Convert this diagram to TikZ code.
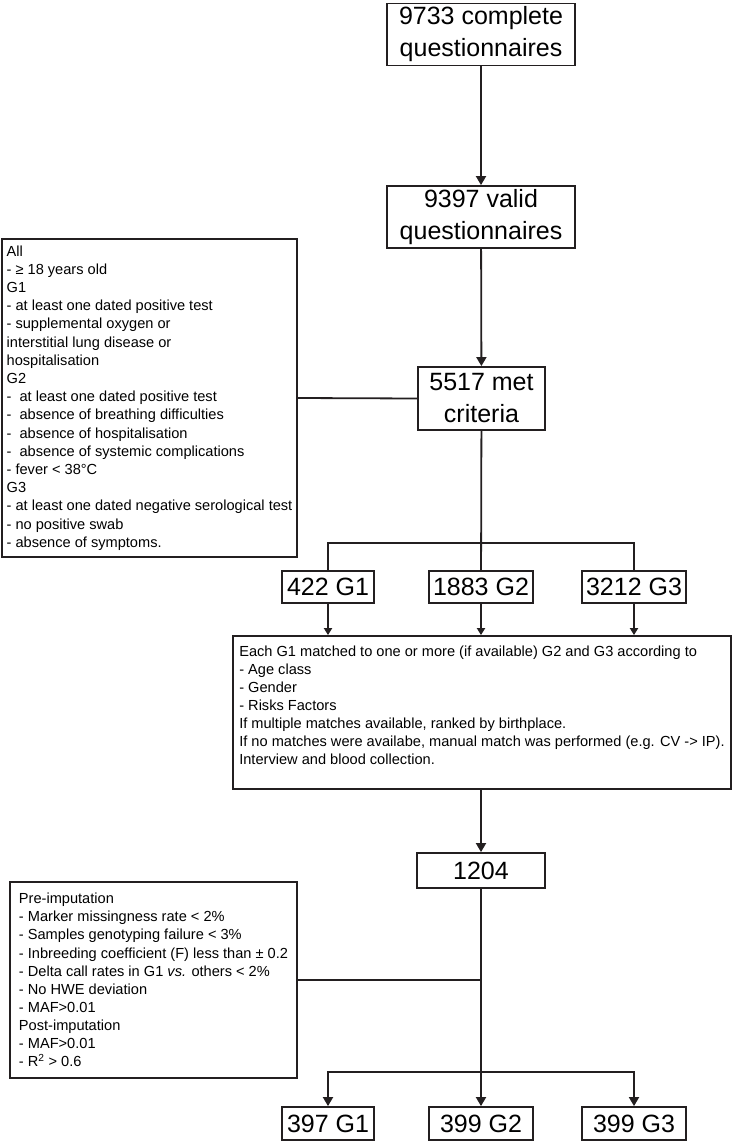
\documentclass[tikz,border=0pt]{standalone}
\usepackage{fontspec}
\setmainfont{Liberation Sans}
\usetikzlibrary{arrows.meta}
\definecolor{ink}{HTML}{231F20}

\begin{document}
\begin{tikzpicture}[x=1pt,y=-1pt,
    line width=1.8pt,draw=ink,
    bigbox/.style={draw=ink,line width=1.8pt,inner sep=0pt,align=center,
      font=\fontsize{25}{32}\selectfont},
    notebox/.style={draw=ink,line width=1.8pt,inner sep=0pt,align=left},
    flow/.style={-{Triangle[width=10pt,length=9pt]}},
    smallflow/.style={-{Triangle[width=8pt,length=7pt]}}]
  \useasboundingbox (0,0) rectangle (733,1143);

  % main column
  \node[bigbox,minimum width=188,minimum height=62] (complete) at (481,34.5)
    {9733 complete\\questionnaires};
  \node[bigbox,minimum width=188,minimum height=62] (valid) at (481,217)
    {9397 valid\\questionnaires};
  \node[bigbox,minimum width=127,minimum height=63] (met) at (481.5,398.5)
    {5517 met\\criteria};

  \node[notebox,minimum width=295,minimum height=318,
    font=\fontsize{14.6}{18.2}\selectfont] (crit) at (149.5,398) {All\\
    - ≥ 18 years old\\
    G1\\
    - at least one dated positive test\\
    - supplemental oxygen or\\
    interstitial lung disease or\\
    hospitalisation\\
    G2\\
    - \ at least one dated positive test\\
    - \ absence of breathing difficulties\\
    - \ absence of hospitalisation\\
    - \ absence of systemic complications\\
    - fever < 38°C\\
    G3\\
    - at least one dated negative serological test\\
    - no positive swab\\
    - absence of symptoms.};

  % groups
  \node[bigbox,minimum width=92,minimum height=32] (g1) at (328,587) {422 G1};
  \node[bigbox,minimum width=104,minimum height=32] (g2) at (481,587) {1883 G2};
  \node[bigbox,minimum width=104,minimum height=32] (g3) at (634,587) {3212 G3};

  \node[notebox,minimum width=498,minimum height=153,
    font=\fontsize{14.6}{18.1}\selectfont] (match) at (482,712.5)
    {Each G1 matched to one or more (if available) G2 and G3 according to\\
    - Age class\\
    - Gender\\
    - Risks Factors\\
    If multiple matches available, ranked by birthplace.\\
    If no matches were availabe, manual match was performed (e.g. CV -> IP).\\
    Interview and blood collection.\\[-3.5pt]};

  \node[bigbox,minimum width=128,minimum height=35] (n1204) at (481,870.5) {1204};

  \node[notebox,minimum width=287,minimum height=196,
    font=\fontsize{14.6}{18.1}\selectfont] (qc) at (153.5,980)
    {Pre-imputation\\
    - Marker missingness rate < 2\%\\
    - Samples genotyping failure < 3\%\\
    - Inbreeding coefficient (F) less than ± 0.2\\
    - Delta call rates in G1 \textit{vs.} others < 2\%\\
    - No HWE deviation\\
    - MAF>0.01\\
    Post-imputation\\
    - MAF>0.01\\
    - R\textsuperscript{2} > 0.6};

  \node[bigbox,minimum width=92,minimum height=33] (r1) at (328,1123.5) {397 G1};
  \node[bigbox,minimum width=104,minimum height=33] (r2) at (481,1123.5) {399 G2};
  \node[bigbox,minimum width=104,minimum height=33] (r3) at (634,1123.5) {399 G3};

  \coordinate (split1) at (481,543);
  \coordinate (split2) at (481,1072);

  % connectors
  \draw[flow] (complete) -- (valid);
  \draw[flow] (valid) -- (met);
  \draw (crit.east) -- (met.west);
  \draw (met) -- (g2);
  \draw (g1.north) |- (split1) -| (g3.north);
  \foreach \g in {g1,g2,g3}
    \draw[smallflow] (\g.south) -- (\g.south |- match.north);
  \draw[flow] (match.south -| n1204) -- (n1204);
  \draw (qc.east) -- (qc.east -| n1204.south);
  \draw[flow] (n1204) -- (r2);
  \draw[flow] (split2) -| (r1.north);
  \draw[flow] (split2) -| (r3.north);
\end{tikzpicture}
\end{document}
